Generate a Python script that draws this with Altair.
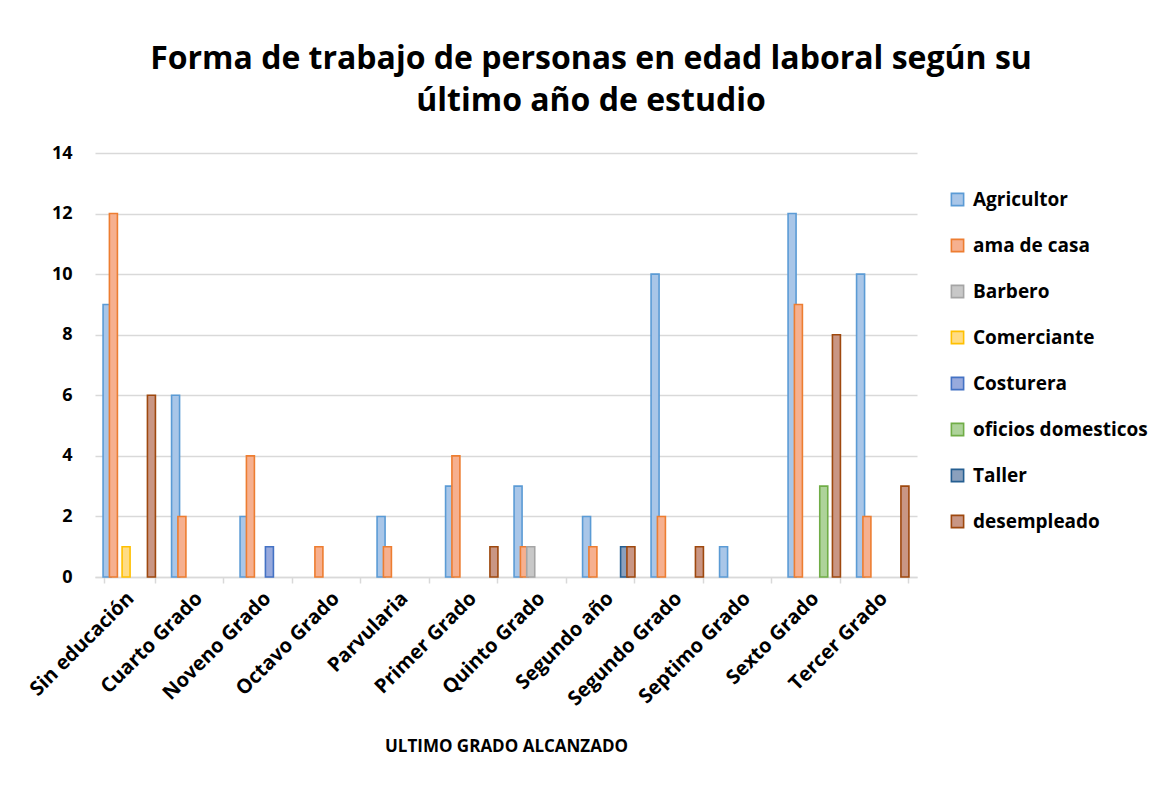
import altair as alt
import pandas as pd

categories = ["Sin educación", "Cuarto Grado", "Noveno Grado", "Octavo Grado",
              "Parvularia", "Primer Grado", "Quinto Grado", "Segundo año",
              "Segundo Grado", "Septimo Grado", "Sexto Grado", "Tercer Grado"]
series = ["Agricultor", "ama de casa", "Barbero", "Comerciante", "Costurera",
          "oficios domesticos", "Taller", "desempleado"]

agricultor = [9, 6, 2, 0, 2, 3, 3, 2, 10, 1, 12, 10]
ama_de_casa = [12, 2, 4, 1, 1, 4, 1, 1, 2, 0, 9, 2]
barbero = [0, 0, 0, 0, 0, 0, 1, 0, 0, 0, 0, 0]
comerciante = [1, 0, 0, 0, 0, 0, 0, 0, 0, 0, 0, 0]
costurera = [0, 0, 1, 0, 0, 0, 0, 0, 0, 0, 0, 0]
oficios = [0, 0, 0, 0, 0, 0, 0, 0, 0, 0, 3, 0]
taller = [0, 0, 0, 0, 0, 0, 0, 1, 0, 0, 0, 0]
desempleado = [6, 0, 0, 0, 0, 1, 0, 1, 1, 0, 8, 3]

fills = ["#a9c6e8", "#f6b08f", "#c8c8c8", "#ffdc85", "#98aadd", "#aed39a", "#8aa0bd", "#c99684"]
strokes = ["#5b9bd5", "#ed7d31", "#a5a5a5", "#ffc000", "#4472c4", "#70ad47", "#255e91", "#9e480e"]

values = [agricultor, ama_de_casa, barbero, comerciante, costurera, oficios, taller, desempleado]
rows = []
for s, vals in zip(series, values):
    for c, v in zip(categories, vals):
        if v > 0:
            rows.append({"grado": c, "forma": s, "n": v})
df = pd.DataFrame(rows)

FONT = "Open Sans"

legend_kw = dict(title=None, orient="none", legendX=853, legendY=37,
                 labelFont=FONT, labelFontSize=19, labelFontWeight="bold",
                 labelColor="#000000", labelLimit=400, symbolType="square",
                 symbolSize=150, symbolStrokeWidth=1.6, rowPadding=26,
                 labelOffset=6, padding=0)

chart = alt.Chart(df).mark_bar(width=8, strokeWidth=1.6).encode(
    x=alt.X("grado:N", sort=categories,
            scale=alt.Scale(domain=categories, paddingInner=0.26, paddingOuter=0.13),
            axis=alt.Axis(title="ULTIMO GRADO ALCANZADO", labelAngle=-45,
                          labelAlign="right", labelBaseline="top",
                          labelFontSize=20, labelFontWeight="bold", labelColor="#000000",
                          labelFont=FONT, labelPadding=5, labelOffset=-6,
                          titleFont=FONT, titleFontSize=17, titleFontWeight="bold",
                          titleColor="#000000", titlePadding=29,
                          domainColor="#d9d9d9", domainWidth=1.5,
                          tickColor="#d9d9d9", tickWidth=1.5, tickSize=6,
                          tickBand="extent", grid=False)),
    xOffset=alt.XOffset("forma:N", scale=alt.Scale(domain=series, paddingInner=0, paddingOuter=0)),
    y=alt.Y("n:Q", scale=alt.Scale(domain=[0, 14]),
            axis=alt.Axis(title=None, values=[0, 2, 4, 6, 8, 10, 12, 14],
                          labelFontSize=18, labelFontWeight="bold", labelColor="#000000",
                          labelFont=FONT, labelPadding=23, domain=False, ticks=False,
                          gridColor="#d9d9d9", gridWidth=1.5)),
    fill=alt.Fill("forma:N", scale=alt.Scale(domain=series, range=fills),
                  legend=alt.Legend(**legend_kw)),
    stroke=alt.Stroke("forma:N", scale=alt.Scale(domain=series, range=strokes),
                      legend=alt.Legend(**legend_kw)),
).properties(
    width=822, height=424,
    background="#ffffff",
    title=alt.TitleParams(
        text=["Forma de trabajo de personas en edad laboral según su",
              "último año de estudio"],
        font=FONT, fontSize=32, fontWeight="bold", color="#000000",
        anchor="middle", frame="group", dx=85, offset=26, lineHeight=42),
    autosize=alt.AutoSizeParams(type="none"),
    padding={"left": 87, "top": 145, "right": 245, "bottom": 213},
).configure_view(strokeWidth=0, stroke="transparent")

chart.save("out.html", embed_options={"renderer": "svg", "actions": False})
